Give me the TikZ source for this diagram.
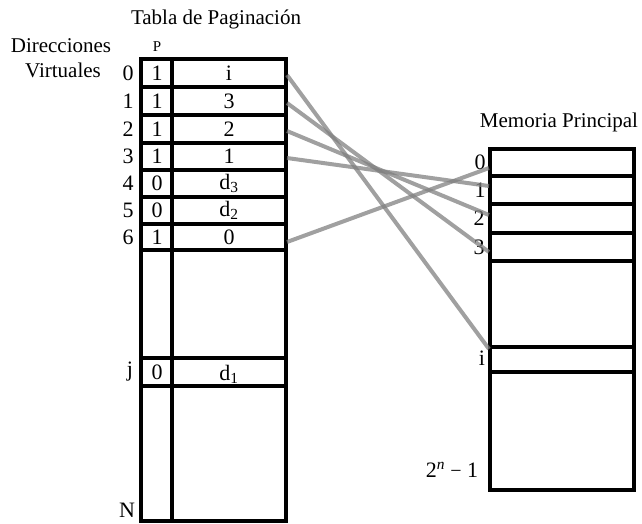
\documentclass[tikz,border=0pt]{standalone}
\usepackage{fontspec}
\setmainfont{Liberation Serif}
\begin{document}
\begin{tikzpicture}[x=1pt,y=-1pt,
  frame/.style={line width=3.2pt,line cap=rect},
  lbl/.style={inner sep=0pt,font=\fontsize{22}{22}\selectfont},
  head/.style={inner sep=0pt,font=\fontsize{21}{21}\selectfont},
  link/.style={line width=4pt,draw=black!50,opacity=0.75}]
\useasboundingbox (0,0) rectangle (642,523);

% headings
\node[head] (title) at (216,19) {Tabla de Paginación};
\node[head] (dir1) at (61,46) {Direcciones};
\node[head] (dir2) at (63,70) {Virtuales};
\node[inner sep=0pt,font=\fontsize{15}{15}\selectfont] (phead) at (157,47) {P};
\node[head] (mem) at (559,122) {Memoria Principal};

% page table
\draw[frame] (141,59) rectangle (286,521);
\draw[frame] (172,59) -- (172,521);
\foreach \y in {87,115,143,170,197,224,250,358,386}
  \draw[frame] (141,\y) -- (286,\y);

% page table rows: index, presence bit, frame
\foreach \i/\y/\p/\f in {0/73/1/i,1/101/1/3,2/129/1/2,3/156.5/1/1,
    4/183.5/0/d\textsubscript{3},5/210.5/0/d\textsubscript{2},6/237/1/0}{
  \node[lbl] (idx\i) at (128,\y) {\i};
  \node[lbl] (bit\i) at (157,\y) {\p};
  \node[lbl] (val\i) at (229,\y) {\f};
}
\node[lbl] (idxj) at (130,372) {j};
\node[lbl] (bitj) at (157,372) {0};
\node[lbl] (valj) at (229,374) {d\textsubscript{1}};
\node[lbl] (idxN) at (127,510) {N};

% main memory
\draw[frame] (490,149) rectangle (634,490);
\foreach \y in {176,204,233,261,347,372}
  \draw[frame] (490,\y) -- (634,\y);
\node[lbl] (m0) at (480,162) {0};
\node[lbl] (m1) at (480,190) {1};
\node[lbl] (m2) at (479,218) {2};
\node[lbl] (m3) at (479,247) {3};
\node[lbl] (mi) at (482,358) {i};
\node[inner sep=0pt,font=\fontsize{22}{22}\selectfont] (mlast) at (452,470) {2\textsuperscript{\itshape n} {\fontsize{20}{20}\selectfont−} 1};

% link end points
\coordinate (s0) at (287,75);
\coordinate (s1) at (287,103);
\coordinate (s2) at (287,131);
\coordinate (s3) at (287,158);
\coordinate (s6) at (287,242);
\coordinate (e0) at (489,168);
\coordinate (e1) at (489,186);
\coordinate (e2) at (489,215);
\coordinate (e3) at (489,252);
\coordinate (ei) at (489,349);

% page-to-frame links
\draw[link] (s0) -- (ei);
\draw[link] (s1) -- (e3);
\draw[link] (s2) -- (e2);
\draw[link] (s3) -- (e1);
\draw[link] (s6) -- (e0);
\end{tikzpicture}
\end{document}
